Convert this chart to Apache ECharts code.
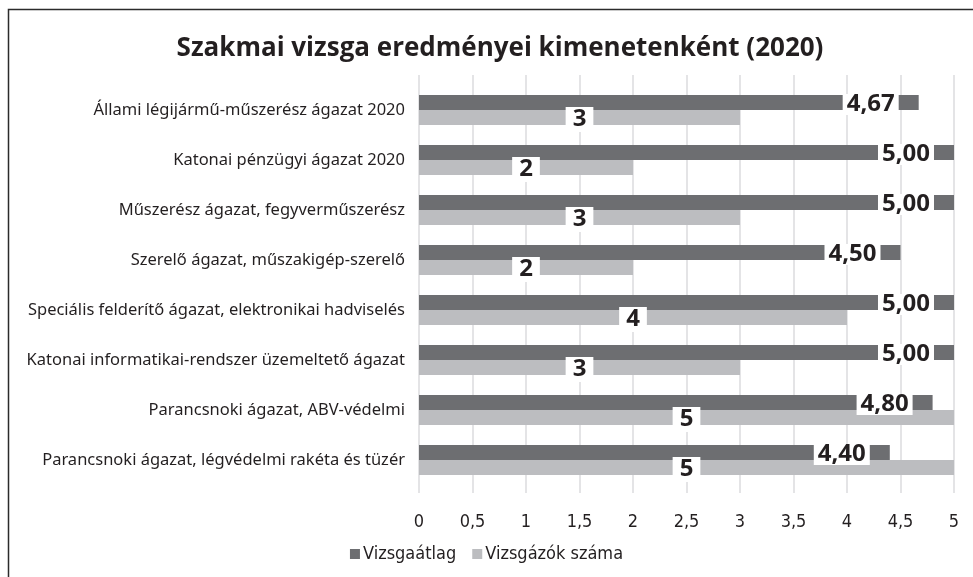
<!DOCTYPE html>
<html>
<head>
<meta charset="utf-8">
<script src="https://cdn.jsdelivr.net/npm/echarts@6/dist/echarts.min.js"></script>
<style>
html,body{margin:0;padding:0;background:#fff;}
#chart{width:973px;height:577px;}
</style>
</head>
<body>
<div id="chart"></div>
<script>
var categories = [
  "Állami légijármű-műszerész ágazat 2020",
  "Katonai pénzügyi ágazat 2020",
  "Műszerész ágazat, fegyverműszerész",
  "Szerelő ágazat, műszakigép-szerelő",
  "Speciális felderítő ágazat, elektronikai hadviselés",
  "Katonai informatikai-rendszer üzemeltető ágazat",
  "Parancsnoki ágazat, ABV-védelmi",
  "Parancsnoki ágazat, légvédelmi rakéta és tüzér"
];
var vizsgaatlag = [4.67, 5.00, 5.00, 4.50, 5.00, 5.00, 4.80, 4.40];
var vizsgazokSzama = [3, 2, 3, 2, 4, 3, 5, 5];
var titleText = "Szakmai vizsga eredményei kimenetenként (2020)";
var seriesNames = ["Vizsgaátlag", "Vizsgázók száma"];

var DARK = "#6d6e71", LIGHT = "#bcbdc0", TXT = "#231f20";
var narrow = "'DejaVu Sans Condensed','Liberation Sans Narrow','Noto Sans',sans-serif";

var chart = echarts.init(document.getElementById('chart'), null, {renderer:'canvas'});
chart.setOption({
  animation: false,
  backgroundColor: '#fff',
  title: {
    text: titleText, left: 495, textAlign: 'center', top: 31,
    textStyle: {fontFamily: "'Open Sans',sans-serif", fontWeight: 'bold', fontSize: 26, color: TXT}
  },
  graphic: [{
    type: 'rect', shape: {x: 8.5, y: 9.5, width: 1000, height: 700},
    style: {fill: 'none', stroke: '#2b2b2b', lineWidth: 1.5}, silent: true, z: -1
  }],
  legend: {
    data: seriesNames, bottom: 9, left: 'center', itemWidth: 10, itemHeight: 10, itemGap: 16,
    icon: 'rect',
    textStyle: {fontFamily: narrow, fontSize: 18, color: TXT, padding: [0, 0, 0, -2]}
  },
  grid: [
    {left: 419, right: 19, top: 85, height: 400, containLabel: false},
    {left: 419, right: 19, top: 75, height: 418, containLabel: false}
  ],
  xAxis: [
    {gridIndex: 0, type: 'value', min: 0, max: 5, interval: 0.5, show: false},
    {gridIndex: 1, type: 'value', min: 0, max: 5, interval: 0.5,
     axisLine: {show: false}, axisTick: {show: false},
     splitLine: {show: true, lineStyle: {color: '#e4e4e6', width: 2}},
     axisLabel: {margin: 20, fontFamily: narrow, fontSize: 18, color: TXT,
       formatter: function(v){ return String(v).replace('.', ','); }}
    }
  ],
  yAxis: [
    {gridIndex: 0, type: 'category', data: categories, inverse: true,
     axisLine: {show: false}, axisTick: {show: false}, splitLine: {show: false},
     axisLabel: {margin: 14, fontFamily: "'Noto Sans',sans-serif", fontSize: 16.5, color: TXT}
    },
    {gridIndex: 1, type: 'category', data: categories, show: false}
  ],
  series: [
    {
      name: seriesNames[0], type: 'bar', xAxisIndex: 0, yAxisIndex: 0,
      data: vizsgaatlag, barWidth: 15, barGap: '0%',
      itemStyle: {color: DARK},
      label: {
        show: true, position: 'insideRight', offset: [-15, 2],
        backgroundColor: '#fff', padding: [0, 4, -1, 4],
        fontFamily: "'Open Sans',sans-serif", fontWeight: 'bold', fontSize: 24, lineHeight: 22, color: TXT,
        formatter: function(p){ return p.value.toFixed(2).replace('.', ','); }
      }
    },
    {
      name: seriesNames[1], type: 'bar', xAxisIndex: 0, yAxisIndex: 0,
      data: vizsgazokSzama, barWidth: 15,
      itemStyle: {color: LIGHT},
      label: {
        show: true, position: 'inside', offset: [0, 2],
        backgroundColor: '#fff', padding: [1, 7, 0, 7],
        fontFamily: "'Open Sans',sans-serif", fontWeight: 'bold', fontSize: 24, lineHeight: 24, color: TXT,
        formatter: function(p){ return String(p.value); }
      }
    }
  ]
});
</script>
</body>
</html>
